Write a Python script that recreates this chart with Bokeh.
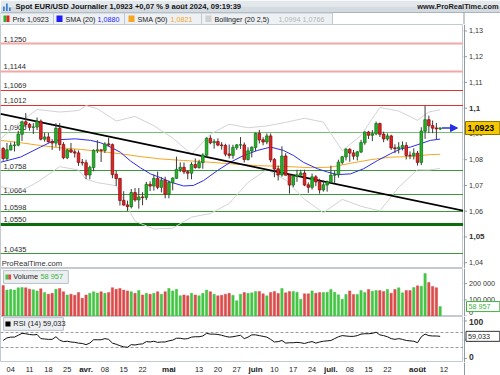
import numpy as np
from bokeh.plotting import figure
from bokeh.models import (ColumnDataSource, Range1d, Arrow, NormalHead, BoxAnnotation, Label)
from bokeh.layouts import column, row
from bokeh.embed import file_html
from bokeh.resources import INLINE
from bokeh.core.properties import value

FONT = "Liberation Sans"

# ---------------- data ----------------
# trading-day index: 0 = Mon 4 March 2024 (weekdays only), -2 = 29 Feb, 114 = 9 Aug
day = list(range(-2, 115))
opens = [1.0843, 1.0805, 1.0838, 1.0855, 1.0857, 1.0899, 1.0947, 1.0937, 1.0926, 1.0927,
         1.0949, 1.0880, 1.0888, 1.0870, 1.0865, 1.0922, 1.0859, 1.0808, 1.0838, 1.0830,
         1.0826, 1.0790, 1.0788, 1.0741, 1.0770, 1.0836, 1.0838, 1.0836, 1.0861, 1.0858,
         1.0743, 1.0727, 1.0642, 1.0624, 1.0618, 1.0672, 1.0644, 1.0655, 1.0653, 1.0704,
         1.0698, 1.0727, 1.0693, 1.0720, 1.0666, 1.0711, 1.0728, 1.0762, 1.0770, 1.0753,
         1.0748, 1.0781, 1.0770, 1.0789, 1.0818, 1.0883, 1.0866, 1.0870, 1.0857, 1.0855,
         1.0822, 1.0817, 1.0847, 1.0857, 1.0857, 1.0801, 1.0834, 1.0848, 1.0902, 1.0877,
         1.0869, 1.0892, 1.0800, 1.0764, 1.0741, 1.0814, 1.0740, 1.0702, 1.0736, 1.0741,
         1.0748, 1.0702, 1.0693, 1.0733, 1.0714, 1.0683, 1.0702, 1.0713, 1.0740, 1.0742,
         1.0790, 1.0811, 1.0840, 1.0826, 1.0814, 1.0830, 1.0866, 1.0907, 1.0895, 1.0901,
         1.0940, 1.0899, 1.0881, 1.0892, 1.0846, 1.0843, 1.0848, 1.0855, 1.0817, 1.0816,
         1.0825, 1.0790, 1.0911, 1.0955, 1.0932, 1.0923, 1.0920]
highs = [1.0849, 1.0865, 1.0867, 1.0870, 1.0912, 1.0950, 1.0981, 1.0943, 1.0942, 1.0964,
         1.0956, 1.0905, 1.0904, 1.0880, 1.0942, 1.0942, 1.0868, 1.0842, 1.0865, 1.0840,
         1.0836, 1.0803, 1.0800, 1.0777, 1.0840, 1.0876, 1.0839, 1.0868, 1.0885, 1.0863,
         1.0757, 1.0729, 1.0678, 1.0641, 1.0686, 1.0690, 1.0690, 1.0674, 1.0714, 1.0716,
         1.0742, 1.0754, 1.0733, 1.0734, 1.0719, 1.0732, 1.0812, 1.0790, 1.0789, 1.0760,
         1.0790, 1.0805, 1.0800, 1.0825, 1.0887, 1.0895, 1.0880, 1.0883, 1.0868, 1.0862,
         1.0859, 1.0858, 1.0861, 1.0888, 1.0867, 1.0848, 1.0852, 1.0905, 1.0916, 1.0887,
         1.0902, 1.0902, 1.0807, 1.0777, 1.0852, 1.0825, 1.0744, 1.0744, 1.0761, 1.0761,
         1.0761, 1.0712, 1.0746, 1.0740, 1.0726, 1.0720, 1.0719, 1.0777, 1.0757, 1.0800,
         1.0815, 1.0845, 1.0845, 1.0838, 1.0834, 1.0877, 1.0910, 1.0912, 1.0915, 1.0948,
         1.0944, 1.0909, 1.0902, 1.0897, 1.0860, 1.0868, 1.0871, 1.0868, 1.0832, 1.0844,
         1.0834, 1.0926, 1.1009, 1.0971, 1.0952, 1.0943, 1.0925]
lows = [1.0796, 1.0797, 1.0836, 1.0832, 1.0852, 1.0873, 1.0926, 1.0913, 1.0900, 1.0915,
        1.0875, 1.0870, 1.0866, 1.0838, 1.0850, 1.0835, 1.0802, 1.0802, 1.0826, 1.0808,
        1.0776, 1.0777, 1.0725, 1.0724, 1.0755, 1.0826, 1.0791, 1.0826, 1.0853, 1.0728,
        1.0698, 1.0622, 1.0622, 1.0601, 1.0611, 1.0637, 1.0610, 1.0623, 1.0643, 1.0678,
        1.0680, 1.0685, 1.0673, 1.0650, 1.0650, 1.0681, 1.0726, 1.0752, 1.0744, 1.0724,
        1.0724, 1.0765, 1.0765, 1.0765, 1.0808, 1.0860, 1.0843, 1.0852, 1.0839, 1.0813,
        1.0805, 1.0804, 1.0838, 1.0842, 1.0789, 1.0797, 1.0809, 1.0834, 1.0863, 1.0856,
        1.0860, 1.0790, 1.0732, 1.0719, 1.0734, 1.0740, 1.0668, 1.0693, 1.0714, 1.0733,
        1.0697, 1.0671, 1.0684, 1.0697, 1.0668, 1.0676, 1.0676, 1.0710, 1.0710, 1.0730,
        1.0782, 1.0797, 1.0792, 1.0800, 1.0797, 1.0826, 1.0858, 1.0880, 1.0872, 1.0895,
        1.0888, 1.0868, 1.0874, 1.0838, 1.0825, 1.0824, 1.0836, 1.0801, 1.0802, 1.0801,
        1.0777, 1.0779, 1.0881, 1.0903, 1.0903, 1.0880, 1.0915]
closes = [1.0805, 1.0838, 1.0855, 1.0857, 1.0899, 1.0947, 1.0937, 1.0926, 1.0927, 1.0949,
          1.0880, 1.0888, 1.0870, 1.0865, 1.0922, 1.0859, 1.0808, 1.0838, 1.0830, 1.0826,
          1.0790, 1.0788, 1.0741, 1.0770, 1.0836, 1.0838, 1.0836, 1.0861, 1.0858, 1.0743,
          1.0727, 1.0642, 1.0624, 1.0618, 1.0672, 1.0644, 1.0655, 1.0653, 1.0704, 1.0698,
          1.0727, 1.0693, 1.0720, 1.0666, 1.0711, 1.0728, 1.0762, 1.0770, 1.0753, 1.0748,
          1.0781, 1.0770, 1.0789, 1.0818, 1.0883, 1.0866, 1.0870, 1.0857, 1.0855, 1.0822,
          1.0817, 1.0847, 1.0857, 1.0858, 1.0801, 1.0834, 1.0848, 1.0902, 1.0877, 1.0869,
          1.0892, 1.0800, 1.0764, 1.0741, 1.0814, 1.0740, 1.0702, 1.0736, 1.0741, 1.0748,
          1.0702, 1.0693, 1.0733, 1.0714, 1.0683, 1.0702, 1.0713, 1.0740, 1.0742, 1.0790,
          1.0811, 1.0840, 1.0826, 1.0814, 1.0830, 1.0866, 1.0907, 1.0895, 1.0901, 1.0940,
          1.0899, 1.0881, 1.0892, 1.0846, 1.0843, 1.0848, 1.0855, 1.0817, 1.0816, 1.0825,
          1.0790, 1.0911, 1.0955, 1.0932, 1.0923, 1.0920, 1.0923]
volume = [188000, 160000, 164000, 160000, 174000, 176000, 174000, 166000, 162000, 155000,
          168000, 145000, 135000, 140000, 165000, 170000, 150000, 130000, 135000, 128000,
          145000, 110000, 130000, 140000, 150000, 142000, 150000, 140000, 145000, 175000,
          165000, 170000, 160000, 155000, 150000, 140000, 158000, 130000, 140000, 135000,
          140000, 150000, 135000, 150000, 170000, 155000, 165000, 125000, 130000, 125000,
          140000, 130000, 125000, 140000, 160000, 150000, 135000, 125000, 128000, 135000,
          140000, 128000, 95000, 135000, 145000, 140000,
          143000, 151000, 151000, 137000, 125000, 145000, 151000, 139000, 170000, 143000,
          151000, 151000, 147000, 104000, 137000, 137000, 155000, 141000, 145000, 145000,
          147000, 164000, 147000, 131000, 104000, 133000, 155000, 133000, 133000, 157000,
          145000, 164000, 153000, 157000, 157000, 151000, 164000, 141000, 164000, 174000,
          143000, 157000, 157000, 176000, 186000, 184000, 262000, 207000, 182000, 174000,
          58957]
rsi = [48, 55, 57, 57, 62, 67, 66, 64, 63, 64, 53, 52, 51, 51, 58, 49, 45, 46, 44, 43,
       41, 40, 37, 41, 50, 50, 50, 53, 51, 41, 38, 34, 31, 30, 37, 36, 38, 39, 45, 44,
       46, 43, 44, 44, 47, 49, 54, 54, 52, 53, 57, 58, 58, 60, 67, 65, 65, 64, 62, 59,
       57, 58, 60, 62, 53, 57, 63, 63, 61, 59, 57, 51, 44, 45, 48, 41, 42, 42, 43, 42,
       40, 43, 45, 41, 44, 46, 47, 48, 53, 58, 61, 60, 59, 59, 61, 65, 66, 66, 67, 70,
       63, 61, 58, 53, 51, 53, 51, 48, 47, 46, 42, 58, 65, 61, 60, 60, 59.033]

sma20_day = [-2.7, 2.6, 7.9, 10.6, 13.2, 17.2, 21.2, 23.8, 26.5, 29.1, 31.8, 34.5, 37.1,
             39.8, 42.4, 45.9, 48.5, 51.2, 54.9, 58.3, 61.8, 65.5, 69.0, 72.4, 75.1, 77.7,
             81.4, 84.1, 86.8, 90.2, 93.7, 97.4, 100.8, 103.5, 106.1, 108.8, 111.4, 114.0]
sma20_val = [1.0790, 1.0810, 1.0849, 1.0868, 1.0878, 1.0881, 1.0875, 1.0866, 1.0849,
             1.0829, 1.0795, 1.0768, 1.0745, 1.0730, 1.0713, 1.0698, 1.0700, 1.0719,
             1.0758, 1.0790, 1.0816, 1.0836, 1.0849, 1.0836, 1.0816, 1.0790, 1.0765,
             1.0752, 1.0742, 1.0745, 1.0765, 1.0797, 1.0823, 1.0842, 1.0849, 1.0862,
             1.0875, 1.0880]
sma50_day = [-2.7, 2.6, 7.9, 13.2, 18.5, 23.8, 29.1, 34.5, 39.8, 45.9, 53.0, 58.3, 65.5,
             72.4, 79.6, 84.9, 90.2, 95.5, 100.8, 106.1, 111.4, 114.0]
sma50_val = [1.0875, 1.0866, 1.0855, 1.0846, 1.0840, 1.0832, 1.0823, 1.0812, 1.0803,
             1.0797, 1.0790, 1.0784, 1.0777, 1.0774, 1.0769, 1.0771, 1.0786, 1.0800,
             1.0810, 1.0812, 1.0820, 1.0821]
boll_day = [-2.7, 3, 7, 13, 18, 20, 23, 28, 33, 38, 43, 48, 53, 58, 63, 68, 73, 78, 83,
            88, 93, 98, 103, 108, 111, 114]
boll_up = [1.0881, 1.0951, 1.0995, 1.0985, 1.0991, 1.1010, 1.0998, 1.0950, 1.0968, 1.0932,
           1.0884, 1.0821, 1.0899, 1.0938, 1.0924, 1.0931, 1.0945, 1.0961, 1.0946, 1.0835,
           1.0894, 1.1003, 1.0989, 1.0953, 1.0985, 1.0994]
boll_lo = [1.0695, 1.0681, 1.0712, 1.0773, 1.0760, 1.0724, 1.0711, 1.0699, 1.0561, 1.0531,
           1.0534, 1.0577, 1.0591, 1.0630, 1.0712, 1.0762, 1.0721, 1.0646, 1.0594, 1.0646,
           1.0619, 1.0601, 1.0693, 1.0761, 1.0760, 1.0766]

level_price = [1.1250, 1.1144, 1.1069, 1.1012, 1.0906, 1.0758, 1.0664, 1.0598, 1.0550, 1.0435]
level_text = ["1,1250", "1,1144", "1,1069", "1,1012", "1,0906", "1,0758", "1,0664",
              "1,0598", "1,0550", "1,0435"]
level_kind = ["weak_res", "weak_res", "res", "res", "sup_light", "sup", "sup", "sup",
              "sup_strong", "sup"]

trend_day = [-2.7, 120.2]
trend_val = [1.0978, 1.0602]

xtick_day = [0, 5, 10, 15, 20, 25, 30, 35, 42, 50, 55, 60, 65, 70, 75, 80, 85, 90, 95,
             100, 108, 115]
xtick_text = ["04", "11", "18", "25", "avr.", "08", "15", "22", "mai", "13", "20", "27",
              "juin", "10", "17", "24", "juil.", "08", "15", "22", "août", "12"]

price_ticks = [1.04, 1.05, 1.06, 1.07, 1.08, 1.09, 1.10, 1.11, 1.12, 1.13]
price_tick_text = ["1,04", "1,05", "1,06", "1,07", "1,08", "1,09", "1,1", "1,11", "1,12", "1,13"]
price_tick_bold = [False, True, False, False, False, False, True, False, False, False]
vol_ticks = [0, 100000, 200000]
vol_tick_text = ["0", "100 000", "200 000"]
vol_tick_bold = [False, False, False]
rsi_ticks = [0, 50, 100]
rsi_tick_text = ["0", "50", "100"]
rsi_tick_bold = [True, False, True]
rsi_levels = [70, 30]

title_text = "Spot EUR/USD Journalier 1,0923 +0,07 % 9 août 2024, 09:19:39"
last_price_text = "1,0923"
sma20_text, sma50_text = "1,0880", "1,0821"
boll_text = ("1,0994", "1,0766")
vol_last_text = "58 957"
rsi_last_text = "59,033"

# ---------------- styling ----------------
GREEN, GREEN_E = "#27b327", "#13761a"
RED, RED_E = "#e32222", "#8e1010"
VGREEN, VRED = "#46c446", "#dc4b4b"
BLUE, ORANGE, BGRAY = "#2b2bf0", "#f5a623", "#d2d2d2"
AXIS_C = "#8f99a3"
level_style = {"weak_res": ("#f3a7a7", 2), "res": ("#e53030", 1),
               "sup_light": ("#73bf73", 1.2), "sup": ("#3a9a3a", 1.2),
               "sup_strong": ("#0b6e0b", 3)}

FW, AW = 463, 37          # frame width / right axis strip width (px)
x_lo = -2.71
xr = Range1d(x_lo, 120.2)


def bare(width, height, xrange, yrange):
    p = figure(width=width, height=height, x_range=xrange, y_range=yrange,
               output_backend="svg", toolbar_location=None, x_axis_location=None,
               y_axis_location=None, min_border_left=0, min_border_right=0,
               min_border_top=0, min_border_bottom=0)
    p.grid.visible = False
    p.outline_line_color = None
    p.background_fill_color = "white"
    p.border_fill_color = "white"
    return p


def panel(height, yr):
    p = bare(FW, height, xr, yr)
    p.outline_line_color = "#c3cad0"
    return p


def axis_strip(height, yr, ticks, labels, bold, offs, size="7.2px", bold_size="8px"):
    a = bare(AW, height, Range1d(0, 37), yr)
    a.vspan(x=[0.5], line_color=AXIS_C, line_width=1)
    a.segment(x0=[0] * len(ticks), x1=[3.5] * len(ticks), y0=ticks, y1=ticks,
              line_color=AXIS_C, line_width=1)
    src = ColumnDataSource(dict(x=[5.5] * len(ticks), y=ticks, t=labels, off=offs,
                                st=["bold" if b else "normal" for b in bold],
                                fs=[bold_size if b else size for b in bold]))
    a.text(x="x", y="y", text="t", source=src, text_font=value(FONT), text_font_style="st",
           text_font_size="fs", text_baseline="middle", text_color="#333333", y_offset="off")
    return a


def value_box(a, height, yr, yv, text, fill, edge, color, fsize, style, half_px, left=2.0):
    dy = half_px * (yr.end - yr.start) / height
    a.quad(left=[left], right=[36.3], top=[yv + dy], bottom=[yv - dy], fill_color=fill,
           line_color=edge, line_width=1)
    a.text(x=[left + 2], y=[yv], text=[text], text_font=value(FONT), text_font_size=fsize,
           text_font_style=style, text_color=color, text_baseline="middle")


# ---------------- header ----------------
hdr = bare(FW + AW, 24, Range1d(0, 500), Range1d(24, 0))
hdr.quad(left=[0], right=[500], top=[0], bottom=[6], fill_color="#e3e8ec", line_color=None)
hdr.quad(left=[0], right=[500], top=[6], bottom=[12], fill_color="#d3dae0", line_color=None)
hdr.segment(x0=[0], x1=[500], y0=[12], y1=[12], line_color="#a9b3bc", line_width=1)
hdr.quad(left=[2.5, 5.5, 8.5], right=[4.2, 7.2, 10.2], top=[6, 3, 7], bottom=[10.5, 10.5, 10.5],
         fill_color="#3d7fd0", line_color=None)
hdr.text(x=[15], y=[6.4], text=[title_text], text_font=value(FONT), text_font_size="7.6px",
         text_font_style="bold", text_baseline="middle", text_color="#141414")
hdr.text(x=[498], y=[6.4], text=["www.ProRealTime.com"], text_font=value(FONT),
         text_font_size="7.4px", text_font_style="bold", text_baseline="middle",
         text_align="right", text_color="#1c1c1c")
hdr.quad(left=[0], right=[332], top=[12.5], bottom=[24], fill_color="#eef1f3",
         line_color="#c2c9cf", line_width=1)
hdr.segment(x0=[53, 124, 201], x1=[53, 124, 201], y0=[12.5] * 3, y1=[24] * 3,
            line_color="#c2c9cf")
hdr.segment(x0=[463.5], x1=[463.5], y0=[12], y1=[24], line_color=AXIS_C)
hdr.quad(left=[3, 6], right=[6, 9], top=[15, 15], bottom=[21.5, 21.5],
         fill_color=[GREEN, RED], line_color=None)
hdr.quad(left=[56, 128, 205], right=[62, 134, 211], top=[15] * 3, bottom=[21.5] * 3,
         fill_color=["#1f1ff5", ORANGE, "#d0d0d0"], line_color=None)
leg_x = [12, 65, 97, 137, 170, 214, 278, 302]
leg_t = ["Prix " + last_price_text, "SMA (20)", sma20_text, "SMA (50)", sma50_text,
         "Bollinger (20 2,5)", boll_text[0], boll_text[1]]
leg_c = ["#1a1a1a", "#1a1a1a", "#1f1ff5", "#1a1a1a", ORANGE, "#1a1a1a", "#b5b5b5", "#b5b5b5"]
hdr.text(x=leg_x, y=[18.6] * len(leg_x), text=leg_t, text_color=leg_c,
         text_font=value(FONT), text_font_size="7.2px", text_baseline="middle")

# ---------------- price panel ----------------
PH = 244
pyr = Range1d(1.03775, 1.1325)
pp = panel(PH, pyr)
for lv, kind in zip(level_price, level_kind):
    col, lw = level_style[kind]
    pp.hspan(y=[lv], line_color=col, line_width=lw)
pp.text(x=[x_lo + 0.8] * len(level_price), y=level_price, text=level_text,
        text_font=value(FONT), text_font_size="7.5px", text_color="#2a2a2a",
        text_baseline="bottom", y_offset=-2)

pp.line(boll_day, boll_up, line_color=BGRAY, line_width=1)
pp.line(boll_day, boll_lo, line_color=BGRAY, line_width=1)
pp.line(sma50_day, sma50_val, line_color=ORANGE, line_width=1)
pp.line(sma20_day, sma20_val, line_color=BLUE, line_width=1)
pp.line(trend_day, trend_val, line_color="black", line_width=1.6)

up = [cl >= op for op, cl in zip(opens, closes)]
cs = ColumnDataSource(dict(
    x=day, o=opens, h=highs, l=lows, c=closes,
    top=[max(a, b) + 0.00004 for a, b in zip(opens, closes)],
    bot=[min(a, b) - 0.00004 for a, b in zip(opens, closes)],
    fill=[GREEN if u else RED for u in up],
    edge=[GREEN_E if u else RED_E for u in up],
))
pp.segment(x0="x", x1="x", y0="l", y1="h", source=cs, line_color="#3a3a3a", line_width=1)
pp.vbar(x="x", width=0.68, top="top", bottom="bot", source=cs, fill_color="fill",
        line_color="edge", line_width=0.8)

pp.add_layout(Arrow(end=NormalHead(size=7, fill_color="#2630e0", line_color="#2630e0"),
                    x_start=day[-1] + 0.5, y_start=closes[-1], x_end=day[-1] + 4.6,
                    y_end=closes[-1], line_color="#2630e0", line_width=1.6))
pp.text(x=[x_lo + 0.3], y=[1.0379], text=["ProRealTime.com"], text_font=value(FONT),
        text_font_size="7.6px", text_color="#333333", text_baseline="bottom")
pa = axis_strip(PH, pyr, price_ticks, price_tick_text, price_tick_bold, [0] * len(price_ticks))
value_box(pa, PH, pyr, closes[-1], last_price_text, "#f6c800", "#8a7400", "black",
          "8.7px", "bold", 6.5)

# ---------------- volume panel ----------------
VH = 48
vyr = Range1d(-2000, 292600)
vp = panel(VH, vyr)
vsrc = ColumnDataSource(dict(x=day, v=volume, fill=[VGREEN if u else VRED for u in up]))
vp.vbar(x="x", width=0.62, top="v", bottom=0, source=vsrc, fill_color="fill",
        line_color="fill", line_width=0.5)
vp.add_layout(BoxAnnotation(left=-1.9, right=15.3, top=280000, bottom=201000,
                            fill_color="#eceff1", fill_alpha=1, line_color="#b9c1c8",
                            line_alpha=1, line_width=1))
vp.add_layout(BoxAnnotation(left=-1.4, right=-0.65, top=256000, bottom=225000,
                            fill_color=VGREEN, fill_alpha=1, line_color=None))
vp.add_layout(BoxAnnotation(left=-0.65, right=0.1, top=256000, bottom=225000,
                            fill_color=VRED, fill_alpha=1, line_color=None))
vp.add_layout(Label(x=0.7, y=240500, text="Volume", text_font=FONT, text_font_size="7.4px",
                    text_color="#1a1a1a", text_baseline="middle"))
vp.add_layout(Label(x=7.9, y=240500, text=vol_last_text, text_font=FONT,
                    text_font_size="7.4px", text_color="#3cb43c", text_baseline="middle"))
va = axis_strip(VH, vyr, vol_ticks, vol_tick_text, vol_tick_bold, [-4, 0, 0])
value_box(va, VH, vyr, volume[-1], vol_last_text, "white", "#3cb43c", "#3cb43c",
          "7.2px", "normal", 5.0, left=3.0)

# ---------------- RSI panel ----------------
RH = 46
ryr = Range1d(-10.7, 112)
rp = panel(RH, ryr)
rp.hspan(y=rsi_levels, line_color="#9a9a9a", line_dash="3 2", line_width=1)
rp.line(day, rsi, line_color="#111111", line_width=1)
rp.add_layout(BoxAnnotation(left=-1.9, right=14.0, top=109, bottom=75,
                            fill_color="#eceff1", fill_alpha=1, line_color="#b9c1c8",
                            line_alpha=1, line_width=1))
rp.add_layout(BoxAnnotation(left=-1.4, right=-0.05, top=98.5, bottom=85,
                            fill_color="black", fill_alpha=1, line_color=None))
rp.add_layout(Label(x=0.7, y=92, text="RSI (14) " + rsi_last_text, text_font=FONT,
                    text_font_size="7.4px", text_color="#1a1a1a", text_baseline="middle"))
ra = axis_strip(RH, ryr, rsi_ticks, rsi_tick_text, rsi_tick_bold, [-1, 0, 1],
                size="7.4px", bold_size="8.5px")
value_box(ra, RH, ryr, rsi[-1], rsi_last_text, "white", "#333333", "#1a1a1a",
          "7.2px", "normal", 5.0, left=2.5)

# ---------------- date strip ----------------
sp = bare(FW, 13, xr, Range1d(13, 0))
is_month = [not t.isdigit() for t in xtick_text]
ssrc = ColumnDataSource(dict(x=xtick_day, y=[7.0] * len(xtick_day), t=xtick_text,
                             st=["bold" if m else "normal" for m in is_month],
                             fs=["8px" if m else "7.4px" for m in is_month]))
sp.text(x="x", y="y", text="t", source=ssrc, text_font=value(FONT), text_font_style="st",
        text_font_size="fs", text_align="center", text_baseline="middle",
        text_color="#222222")
sa = bare(AW, 13, Range1d(0, 37), Range1d(13, 0))
sa.vspan(x=[0.5], line_color=AXIS_C, line_width=1)

layout = column(hdr, row(pp, pa, spacing=0), row(vp, va, spacing=0),
                row(rp, ra, spacing=0), row(sp, sa, spacing=0), spacing=0)
open("out.html", "w").write(file_html(layout, INLINE))
